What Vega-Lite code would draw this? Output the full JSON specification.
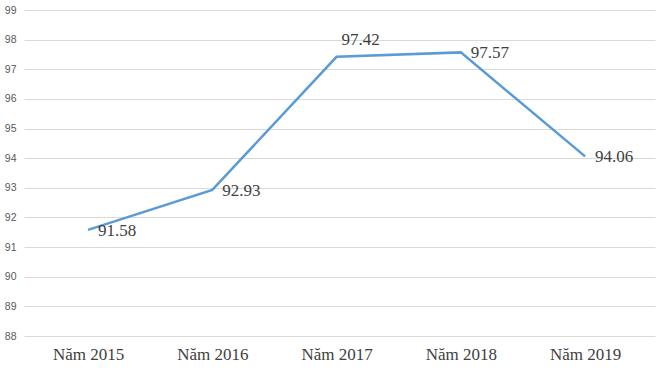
{
  "$schema": "https://vega.github.io/schema/vega-lite/v6.json",
  "autosize": {"type": "none"},
  "width": 631,
  "height": 326,
  "padding": {"left": 24, "top": 10, "right": 5, "bottom": 35},
  "background": "white",
  "config": {"view": {"stroke": null}},
  "data": {"values": [
    {"year": "Năm 2015", "value": 91.58},
    {"year": "Năm 2016", "value": 92.93},
    {"year": "Năm 2017", "value": 97.42},
    {"year": "Năm 2018", "value": 97.57},
    {"year": "Năm 2019", "value": 94.06}
  ]},
  "encoding": {
    "x": {"field": "year", "type": "ordinal", "sort": null,
      "scale": {"type": "point", "padding": 0.539, "align": 0.478},
      "axis": {"title": null, "domain": false, "ticks": false, "labelAngle": 0,
        "labelFont": "Liberation Serif", "labelFontSize": 17, "labelColor": "#404040", "labelPadding": 10}},
    "y": {"field": "value", "type": "quantitative",
      "scale": {"domain": [88, 99], "nice": false, "zero": false},
      "axis": {"title": null, "domain": false, "ticks": false, "values": [88,89,90,91,92,93,94,95,96,97,98,99], "labelOverlap": false,
        "labelFont": "Liberation Sans", "labelFontSize": 10.5, "labelColor": "#595959", "labelPadding": 8,
        "gridColor": "#d9d9d9", "gridWidth": 1}}
  },
  "layer": [
    {"mark": {"type": "line", "color": "#5B9BD5", "strokeWidth": 2.5}},
    {"transform": [{"filter": "datum.year != 'Năm 2017'"}],
      "mark": {"type": "text", "align": "left", "baseline": "middle", "dx": 10, "dy": 1, "font": "Liberation Serif", "fontSize": 17, "color": "#404040"},
      "encoding": {"text": {"field": "value", "type": "quantitative", "format": ".2f"}}},
    {"transform": [{"filter": "datum.year == 'Năm 2017'"}],
      "mark": {"type": "text", "align": "center", "baseline": "middle", "dx": 24, "dy": -17, "font": "Liberation Serif", "fontSize": 17, "color": "#404040"},
      "encoding": {"text": {"field": "value", "type": "quantitative", "format": ".2f"}}}
  ]
}
